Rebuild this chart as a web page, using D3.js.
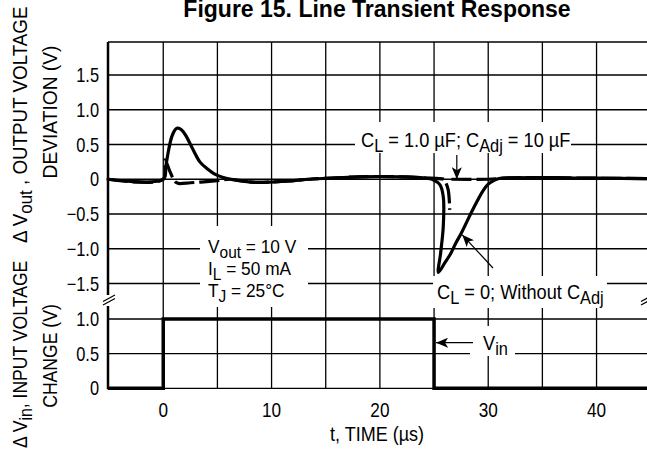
<!DOCTYPE html>
<html>
<head>
<meta charset="utf-8">
<script src="https://cdn.jsdelivr.net/npm/d3@7"></script>
<style>
  body { margin: 0; background: #fff; }
  svg { display: block; }
  text { font-family: "Liberation Sans", Arial, Helvetica, sans-serif; fill: #000; }
  .title { font-weight: bold; }
</style>
</head>
<body>
<svg id="chart" width="647" height="454"></svg>
<script>
// time axis (µs)
var timeTicks = [0, 10, 20, 30, 40];
var timeGrid = [0, 5, 10, 15, 20, 25, 30, 35, 40];

// output voltage deviation ticks (V)
var outTicks = [1.5, 1.0, 0.5, 0, -0.5, -1.0, -1.5];
var outTickLabels = ["1.5", "1.0", "0.5", "0", "\u22120.5", "\u22121.0", "\u22121.5"];

// input voltage change ticks (V)
var inTicks = [1.0, 0.5, 0];
var inTickLabels = ["1.0", "0.5", "0"];

// C_L = 0; without C_Adj  (time, deviation)
var noCapT = [-5.1, 0, 0.25, 0.47, 0.78, 1.08, 1.3, 1.7, 2.15, 2.77, 3.38, 4.0, 4.95, 6.2, 7.5, 8.6, 10, 11.7, 13.5,
              16, 18, 20, 22, 24, 24.95, 25.55, 25.85, 25.85, 25.6, 25.4,
              26.0, 26.5, 27.0, 27.5, 28.0, 28.5, 29.0, 29.5, 30.0, 30.5, 31.0, 32, 34, 37, 40, 45];
var noCapV = [0, 0, 0.2, 0.4, 0.61, 0.71, 0.735, 0.71, 0.61, 0.42, 0.25, 0.16, 0.06, 0, -0.03, -0.045, -0.04, -0.025, 0,
              0.02, 0.035, 0.04, 0.035, 0.02, -0.01, -0.08, -0.25, -0.68, -1.07, -1.34,
              -1.2, -1.08, -0.92, -0.78, -0.62, -0.46, -0.31, -0.17, -0.07, -0.02, 0.01, 0.02, 0.025, 0.02, 0.015, 0.01];

// C_L = 1.0 µF; C_Adj = 10 µF  (dashed)
var capT = [-5.1, 0, 0.16, 0.62, 1.08, 1.4, 2.5, 3.5, 5, 6.2, 7.5, 8.6, 10, 11.7, 13.5, 16, 18, 20, 22, 24, 25.9,
            26.0, 26.3, 26.45, 26.5, 26.6, 30, 31, 32, 34, 37, 40, 45];
var capV = [0, 0, 0.28, 0.11, -0.035, -0.06, -0.05, -0.04, -0.02, 0, -0.03, -0.045, -0.04, -0.025, 0, 0.02, 0.035, 0.04, 0.035, 0.02, 0,
            -0.02, -0.15, -0.44, null, 0, 0, 0.01, 0.02, 0.025, 0.02, 0.015, 0.01];

// input step
var vinT = [-5.1, 0, 0, 25, 25, 45];
var vinV = [0, 0, 1, 1, 0, 0];

var svg = d3.select("#chart");

var x = d3.scaleLinear().domain([-5.1, 44.75]).range([108, 648]);
var yOut = d3.scaleLinear().domain([-1.5, 1.975]).range([283.5, 42]);
var yIn = d3.scaleLinear().domain([0, 1]).range([388.3, 319]);

var left = x(-5.1), right = 647;

// text placed with a horizontal squeeze (the original face is narrower than Arial)
function label(px, py, size, sx, anchor, rotate) {
    var tr = "translate(" + px + "," + py + ")" + (rotate ? " rotate(-90)" : "") + " scale(" + sx + ",1)";
    return svg.append("text").attr("transform", tr)
        .attr("text-anchor", anchor || "start")
        .style("font-size", size + "px");
}

function subText(sel, parts, subSize) {
    parts.forEach(function (p) {
        var t = sel.append("tspan").text(p[0]);
        if (p[3] != null) t.attr("x", 0).attr("dy", p[3]);
        if (p[1]) t.attr("dy", 5).style("font-size", (subSize || 18) + "px");
        else if (p[2]) t.attr("dy", -5);
    });
}

// title
label(377, 17, 23, 1, "middle").attr("class", "title")
    .text("Figure 15. Line Transient Response");

// grid
var grid = svg.append("g").attr("stroke", "#000").attr("stroke-width", 1.3);

grid.selectAll(".vg").data(timeGrid).enter().append("line")
    .attr("x1", function (d) { return x(d); }).attr("x2", function (d) { return x(d); })
    .attr("y1", yOut(1.975)).attr("y2", yIn(0));

grid.selectAll(".ho").data(outTicks.concat([1.975])).enter().append("line")
    .attr("x1", left).attr("x2", right)
    .attr("y1", function (d) { return yOut(d); }).attr("y2", function (d) { return yOut(d); });

grid.selectAll(".hi").data(inTicks).enter().append("line")
    .attr("x1", left).attr("x2", right)
    .attr("y1", function (d) { return yIn(d); }).attr("y2", function (d) { return yIn(d); });

// left axis with break
svg.append("line").attr("x1", left).attr("x2", left)
    .attr("y1", yOut(1.975)).attr("y2", 295)
    .attr("stroke", "#000").attr("stroke-width", 2.5);
svg.append("line").attr("x1", left).attr("x2", left)
    .attr("y1", 306).attr("y2", yIn(0) + 1)
    .attr("stroke", "#000").attr("stroke-width", 2.5);
[0, 3.5].forEach(function (o) {
    svg.append("line").attr("x1", left - 5).attr("y1", 301.5 + o).attr("x2", left + 7).attr("y2", 295 + o)
        .attr("stroke", "#000").attr("stroke-width", 1.2);
    svg.append("line").attr("x1", right - 6).attr("y1", 301.5 + o).attr("x2", right + 4).attr("y2", 296 + o)
        .attr("stroke", "#000").attr("stroke-width", 1.2);
});

// tick labels
outTicks.forEach(function (d, i) {
    label(99, yOut(d) + 7, 20, 0.82, "end").text(outTickLabels[i]);
});
inTicks.forEach(function (d, i) {
    label(99, yIn(d) + 7, 20, 0.82, "end").text(inTickLabels[i]);
});
timeTicks.forEach(function (d) {
    label(x(d), 417, 20, 0.86, "middle").text(d);
});

// axis titles
label(377, 441, 20, 0.9, "middle").text("t, TIME (\u00b5s)");

subText(label(27, 243, 20, 0.94, "start", true),
    [["\u0394 V"], ["out", 1], [" , OUTPUT VOLTAGE", 0, 1]]);
label(57, 112, 20, 0.96, "middle", true).text("DEVIATION (V)");

subText(label(27, 448, 20, 0.88, "start", true),
    [["\u0394 V"], ["in", 1], [", INPUT VOLTAGE", 0, 1]]);
label(57, 356, 20, 0.88, "middle", true).text("CHANGE (V)");

// curves
var lineOut = d3.line()
    .defined(function (d) { return d[1] != null; })
    .x(function (d) { return x(d[0]); })
    .y(function (d) { return yOut(d[1]); });

var lineIn = d3.line()
    .x(function (d) { return x(d[0]); })
    .y(function (d) { return yIn(d[1]); });

svg.append("path")
    .datum(vinT.map(function (t, i) { return [t, vinV[i]]; }))
    .attr("d", lineIn)
    .attr("fill", "none").attr("stroke", "#000").attr("stroke-width", 3.5);

svg.append("path")
    .datum(noCapT.map(function (t, i) { return [t, noCapV[i]]; }))
    .attr("d", lineOut.curve(d3.curveCatmullRom.alpha(0.5)))
    .attr("fill", "none").attr("stroke", "#000").attr("stroke-width", 3.2)
    .attr("stroke-linejoin", "round").attr("stroke-linecap", "round");

svg.append("path")
    .datum(capT.map(function (t, i) { return [t, capV[i]]; }))
    .attr("d", lineOut.curve(d3.curveCatmullRom.alpha(0.5)))
    .attr("fill", "none").attr("stroke", "#000").attr("stroke-width", 3.2)
    .attr("stroke-dasharray", "20,5");

// arrow heads
var defs = svg.append("defs");
defs.append("marker").attr("id", "head").attr("viewBox", "0 0 12 10")
    .attr("refX", 12).attr("refY", 5).attr("markerWidth", 12).attr("markerHeight", 10)
    .attr("markerUnits", "userSpaceOnUse").attr("orient", "auto")
    .append("path").attr("d", "M0,0 L12,5 L0,10 L3,5 Z").attr("fill", "#000");

function whiteBox(x0, y0, x1, y1) {
    svg.append("rect").attr("x", x0).attr("y", y0)
        .attr("width", x1 - x0).attr("height", y1 - y0).attr("fill", "#fff");
}

// C_L = 1.0 µF label
whiteBox(355, 122, 571, 153);
subText(label(361, 146.5, 20, 0.91),
    [["C"], ["L", 1], [" = 1.0 \u00b5F; C", 0, 1], ["Adj", 1], [" = 10 \u00b5F", 0, 1]]);
svg.append("line").attr("x1", x(27.1)).attr("x2", x(27.1))
    .attr("y1", 155).attr("y2", yOut(0))
    .attr("stroke", "#000").attr("stroke-width", 1.2).attr("marker-end", "url(#head)");

// C_L = 0 label
whiteBox(433, 276, 607, 308);
subText(label(437, 298.5, 20, 0.91),
    [["C"], ["L", 1], [" = 0; Without C", 0, 1], ["Adj", 1]]);
svg.append("line").attr("x1", 493).attr("y1", 268)
    .attr("x2", x(27.6)).attr("y2", yOut(-0.8))
    .attr("stroke", "#000").attr("stroke-width", 1.2).attr("marker-end", "url(#head)");

// conditions (one text block, three lines)
whiteBox(200, 226, 308, 307);
subText(label(208, 253, 19, 0.91), [
    ["V"], ["out", 1], [" = 10 V", 0, 1],
    ["I", 0, 0, 22], ["L", 1], [" = 50 mA", 0, 1],
    ["T", 0, 0, 22], ["J", 1], [" = 25\u00b0C", 0, 1]
], 17);

// V_in label
whiteBox(470, 326, 515, 356);
subText(label(483, 349.5, 20, 0.91), [["V"], ["in", 1]]);
svg.append("line").attr("x1", 473).attr("y1", 342.7)
    .attr("x2", x(25) + 2).attr("y2", 342.7)
    .attr("stroke", "#000").attr("stroke-width", 1.2).attr("marker-end", "url(#head)");
</script>
</body>
</html>
